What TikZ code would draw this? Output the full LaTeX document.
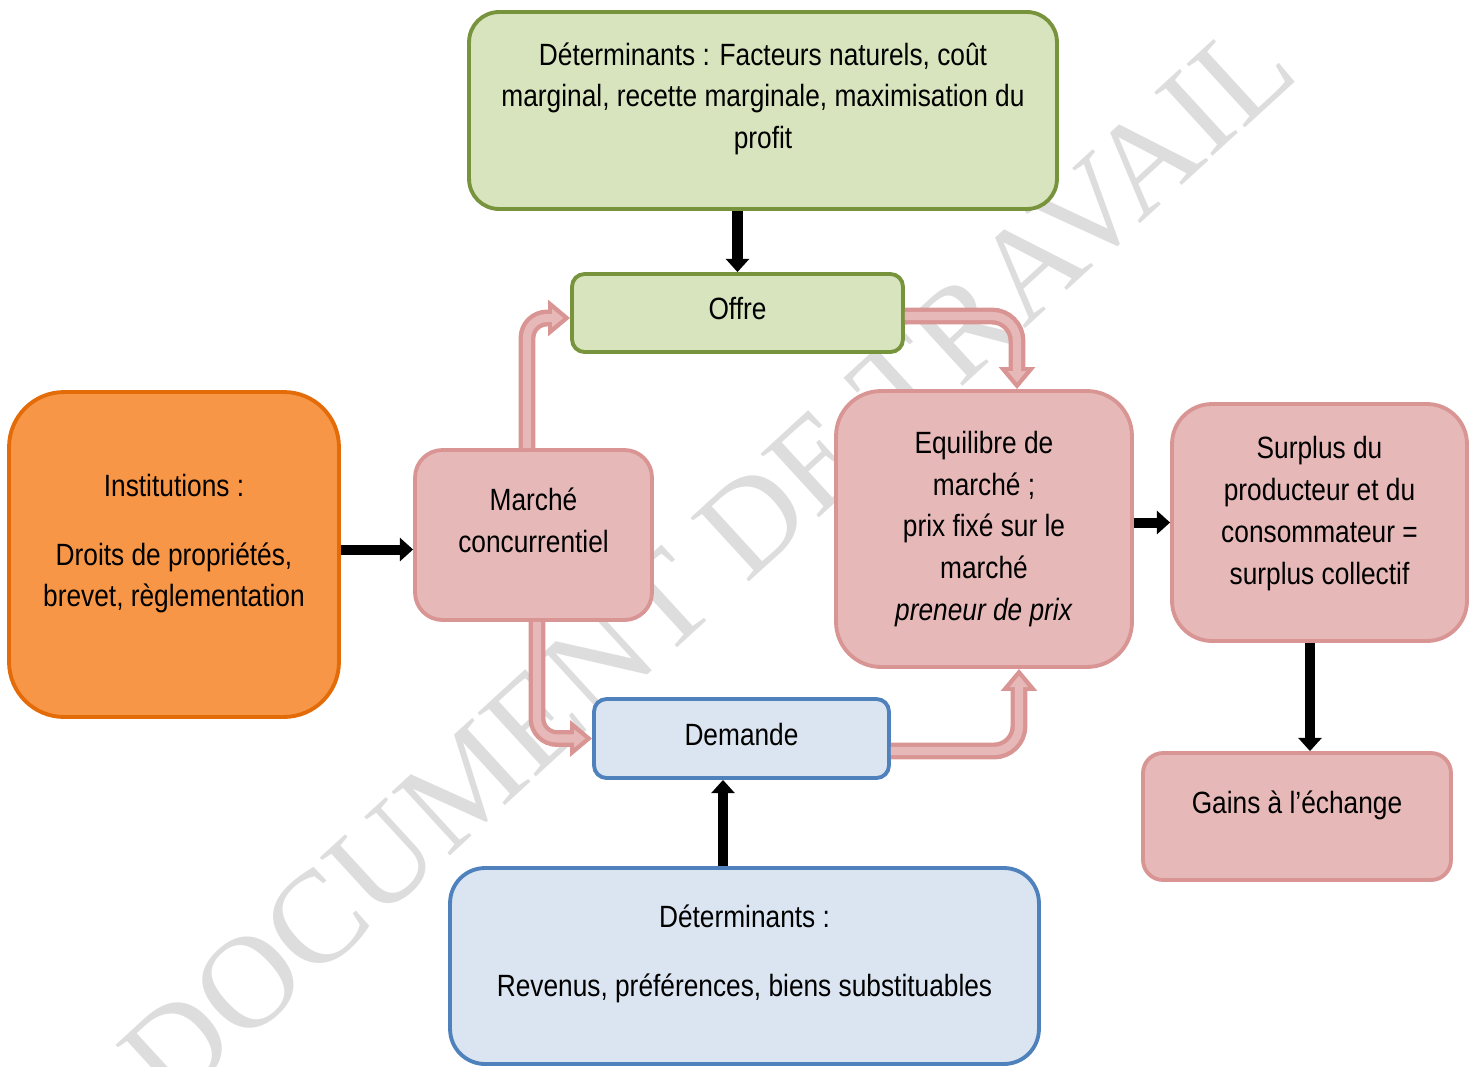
\documentclass[tikz,border=0pt]{standalone}
\usepackage{fontspec}
\setmainfont{Liberation Sans}[FakeStretch=0.855]
\newfontfamily\wmfont{Liberation Serif}
\usetikzlibrary{arrows.meta}
\definecolor{vertfond}{HTML}{D7E4BD}
\definecolor{verttrait}{HTML}{77933C}
\definecolor{orangefond}{HTML}{F79646}
\definecolor{orangetrait}{HTML}{E36C09}
\definecolor{rosefond}{HTML}{E6B9B8}
\definecolor{rosetrait}{HTML}{D99594}
\definecolor{bleufond}{HTML}{DBE5F1}
\definecolor{bleutrait}{HTML}{4F81BD}
\definecolor{filigrane}{HTML}{DDDDDD}

\begin{document}
\begin{tikzpicture}[x=0.02cm,y=-0.02cm,
      every node/.style={align=center,font=\fontsize{17.5}{23.8}\selectfont},
      box/.style={rectangle,line width=2.2pt,inner sep=0pt},
      vert/.style={box,draw=verttrait,fill=vertfond},
      orange/.style={box,draw=orangetrait,fill=orangefond},
      rose/.style={box,draw=rosetrait,fill=rosefond},
      bleu/.style={box,draw=bleutrait,fill=bleufond},
      lift/.style={execute at end node={\rule[-#1]{0pt}{0pt}}},
      blk/.style={draw=black,line width=5.7pt,-{Triangle[width=13pt,length=7.5pt]}},
      hollow/.style={draw=rosetrait,line width=9.6pt,rounded corners=#1,
                     -{Triangle[width=20pt,length=12.5pt]},
                     postaction={draw=rosefond,line width=4.6pt,
                       -{Triangle[width=10pt,length=6.5pt]},shorten >=3.8pt}},
    ]
      \useasboundingbox (0,0) rectangle (1475,1066);
      \node[text=filigrane,font=\wmfont\fontsize{75}{75}\selectfont,rotate=42.5] (wm)
        at (708,562) {DOCUMENT DE TRAVAIL};

      \node[vert,minimum width=11.76cm,minimum height=3.94cm,rounded corners=0.6cm,lift=0.6cm]
        (detoffre) at (763,110.5)
        {Déterminants : Facteurs naturels, coût\\marginal, recette marginale, maximisation du\\profit};
      \node[vert,minimum width=6.62cm,minimum height=1.56cm,rounded corners=0.25cm,lift=0.2cm]
        (offre) at (737.5,313) {Offre};
      \node[orange,minimum width=6.6cm,minimum height=6.5cm,rounded corners=1.1cm,lift=0.56cm]
        (inst) at (174,554.5)
        {Institutions :\\[0.54cm]Droits de propriétés,\\brevet, règlementation};
      \node[rose,minimum width=4.74cm,minimum height=3.4cm,rounded corners=0.55cm,lift=0.6cm]
        (marche) at (533.5,535) {Marché\\concurrentiel};
      \node[rose,minimum width=5.92cm,minimum height=5.52cm,rounded corners=0.9cm]
        (equil) at (984,529)
        {Equilibre de\\marché ;\\prix fixé sur le\\marché\\\textit{preneur de prix}};
      \node[rose,minimum width=5.9cm,minimum height=4.74cm,rounded corners=0.8cm,lift=0.48cm]
        (surplus) at (1319.5,522.5)
        {Surplus du\\producteur et du\\consommateur =\\surplus collectif};
      \node[rose,minimum width=6.16cm,minimum height=2.54cm,rounded corners=0.4cm,lift=0.56cm]
        (gains) at (1297,816.5) {Gains à l’échange};
      \node[bleu,minimum width=5.9cm,minimum height=1.58cm,rounded corners=0.25cm,lift=0.16cm]
        (demande) at (741.5,738.5) {Demande};
      \node[bleu,minimum width=11.78cm,minimum height=3.92cm,rounded corners=0.7cm,lift=0.6cm]
        (detdemande) at (744.5,966)
        {Déterminants :\\[0.54cm]Revenus, préférences, biens substituables};

      \coordinate (m1) at ([xshift=-0.13cm]marche.north);
      \coordinate (o1) at ([yshift=-0.1cm]offre.west);
      \coordinate (o2) at ([yshift=-0.06cm]offre.east);
      \coordinate (e1) at ([xshift=0.66cm]equil.north);
      \coordinate (m2) at ([xshift=0.07cm]marche.south);
      \coordinate (d1) at ([yshift=-0.25cm]demande.east);
      \coordinate (e2) at ([xshift=0.7cm]equil.south);
      \draw[hollow=0.4cm] (m1) |- (o1);
      \draw[hollow=0.5cm] (o2) -| (e1);
      \draw[hollow=0.4cm] (m2) |- (demande.west);
      \draw[hollow=0.5cm] (d1) -| (e2);

      \coordinate (i1) at ([yshift=0.1cm]inst.east);
      \coordinate (s1) at ([xshift=-0.19cm]surplus.south);
      \coordinate (b1) at ([xshift=-0.43cm]detdemande.north);
      \path (detoffre.south -| offre.north) edge[blk] (offre.north);
      \path (i1) edge[blk] (i1 -| marche.west);
      \path (surplus.west -| equil.east) edge[blk] (surplus.west);
      \path (s1) edge[blk] (s1 |- gains.north);
      \path (b1) edge[blk] (b1 |- demande.south);
    \end{tikzpicture}
\end{document}
